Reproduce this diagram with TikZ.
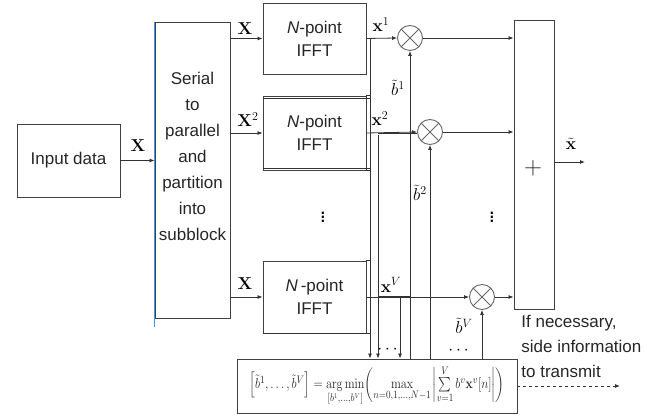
\documentclass[tikz,border=0pt]{standalone}
\usepackage[no-math]{fontspec}
\usepackage{amsmath}
\usepackage{graphicx}
\setmainfont{Liberation Sans}
\usetikzlibrary{arrows.meta,calc}
\definecolor{edgeblue}{RGB}{95,140,205}
\begin{document}
\begin{tikzpicture}[x=1pt,y=-1pt,
  line width=0.8pt,
  every node/.style={font=\fontsize{17}{20}\selectfont, text=black!85},
  blk/.style={draw=black!75, line width=0.9pt, inner sep=0pt},
  wire/.style={draw=black!80, line width=0.8pt},
  arr/.style={wire, -{Latex[length=5pt,width=4pt]}},
  mult/.style={circle, draw=black!60, line width=0.9pt, minimum size=25pt, inner sep=0pt,
    path picture={\draw[black!60,line width=0.9pt]
      (path picture bounding box.north west) -- (path picture bounding box.south east)
      (path picture bounding box.south west) -- (path picture bounding box.north east);}},
  lbl/.style={inner sep=0pt, font=\fontsize{17}{20}\selectfont, text=black},
  vdts/.style={inner sep=0pt, font=\fontsize{22}{22}\selectfont, text=black},
  sidetxt/.style={align=left, anchor=west, inner sep=0pt, font=\fontsize{17}{25}\selectfont}
]
\useasboundingbox (0,0) rectangle (664,419);

% blocks
\node[blk, minimum width=103pt, minimum height=73pt] (inp) at (68.5,160.5) {Input data};
\node[blk, minimum width=75pt, minimum height=296pt] (sp) at (192.5,170) {};
\draw[edgeblue, line width=0.9pt] (sp.north west) -- ++(0,305);
\node[align=center, inner sep=0pt, font=\fontsize{17}{26}\selectfont] (sptext) at (192.5,156)
  {Serial\\to\\parallel\\and\\partition\\into\\subblock};

\node[blk, minimum width=103pt, minimum height=71pt, align=center, font=\fontsize{17}{23}\selectfont] (f1) at (314.5,38.5) {\textit{N}-point\\IFFT};
\node[blk, minimum width=103pt, minimum height=74pt, align=center, font=\fontsize{17}{23}\selectfont] (f2) at (314.5,133) {\textit{N}-point\\IFFT};
\node[blk, minimum width=103pt, minimum height=72pt, align=center, font=\fontsize{17}{23}\selectfont] (f3) at (314.5,297) {\textit{N}\,-point\\IFFT};
% shadow edges of second and third IFFT blocks
\draw[wire] (f2.north west) ++(0,2.5) -- ++(107,0);
\draw[wire] (f2.north east) -- ++(4,0);
\draw[wire] (f2.south west) ++(0,-2.5) -- ++(107,0);
\draw[wire] (f2.south east) -- ++(4,0);
\draw[wire] (f3.north east) -- ++(4,0);
\draw[wire] (f3.south east) -- ++(4,0);
\draw[wire, line width=1.4pt] (f3.south west) -- (f3.south east);

\node[mult] (c1) at (410,38) {};
\node[mult] (c2) at (430,132) {};
\node[mult] (c3) at (482,297) {};

\node[blk, minimum width=40pt, minimum height=289pt] (sum) at (534,164.5) {};
\node[inner sep=0pt, font=\fontsize{26}{26}\selectfont] (plus) at (533,168) {$+$};

\node[blk, minimum width=280pt, minimum height=54pt] (opt) at (377,386)
 {\scalebox{0.84}[1]{\fontsize{15}{18}\selectfont $\left[\tilde b^1,\ldots,\tilde b^V\right] = \mathop{\arg\min}\limits_{[b^1,\ldots,b^V]}\!\left(\max\limits_{n=0,1,\ldots,N-1}\left|\sum\limits_{v=1}^{V} b^v\mathbf{x}^v[n]\right|\right)$}};

% input side
\draw[arr] (inp.east) -- (inp.east -| sp.west);
\node[lbl] (lx0) at (138,146) {$\mathbf{X}$};
\draw[arr] (sp.east |- f1.west) -- (f1.west);
\draw[arr] (sp.east |- f2.west) -- (f2.west);
\draw[arr] (sp.east |- f3.west) -- (f3.west);
\node[lbl] (lx1) at (245,29) {$\mathbf{X}$};
\node[lbl] (lx2) at (248,120) {$\mathbf{X}^{2}$};
\node[lbl] (lx3) at (245,284) {$\mathbf{X}$};

% IFFT outputs to multipliers
\draw[arr] (f1.east) -- (c1.west);
\draw[arr] (f2.east) -- (c2.west);
\draw[arr] (f3.east) -- (c3.west);
\node[lbl] (ly1) at (381,25) {$\mathbf{x}^{1}$};
\node[lbl] (ly2) at (380,119) {$\mathbf{x}^{2}$};
\node[lbl] (ly3) at (391,285) {$\mathbf{x}^{V}$};

% branches down to optimiser
\coordinate (br1) at (370,38.5);
\coordinate (br2) at (378,133);
\coordinate (br3) at (400,297);
\draw[arr] (br1) -- (br1 |- opt.north);
\draw[wire] (br2) -- (c2.west |- br2);
\draw[arr] (br2) ++(0,2.5) -- (br2 |- opt.north);
\draw[wire, line width=2pt] (378,297) -- (410,297);
\draw[arr] (br3) -- (br3 |- opt.north);
\node[lbl] (dd1) at (389,350) {$\cdots$};

% phase factors up to multipliers
\draw[arr] (c1.south |- opt.north) -- (c1.south);
\draw[arr] (c2.south |- opt.north) -- (c2.south);
\draw[arr] (c3.south |- opt.north) -- (c3.south);
\node[lbl] (lb1) at (398,88) {$\tilde b^{1}$};
\node[lbl] (lb2) at (420,193) {$\tilde b^{2}$};
\node[lbl] (lb3) at (464,326) {$\tilde b^{V}$};
\node[lbl] (dd2) at (460,351) {$\cdots$};

% multipliers to adder
\draw[arr] (c1.east) -- (c1.east -| sum.west);
\draw[arr] (c2.east) -- (c2.east -| sum.west);
\draw[arr] (c3.east) -- (c3.east -| sum.west);
\coordinate (out) at (585,162);
\draw[arr] (sum.east |- out) -- (out);
\node[lbl] (lout) at (571,144) {$\tilde{\mathbf{x}}$};

% vertical dots
\node[vdts] (vd1) at (323,214) {$\vdots$};
\node[vdts] (vd2) at (492,214) {$\vdots$};

% side information
\node[sidetxt] (side) at (521,346) {If necessary,\\side information\\to transmit};
\coordinate (sideend) at (620,386);
\draw[arr, dashed] (opt.east) -- (sideend);
\end{tikzpicture}
\end{document}
